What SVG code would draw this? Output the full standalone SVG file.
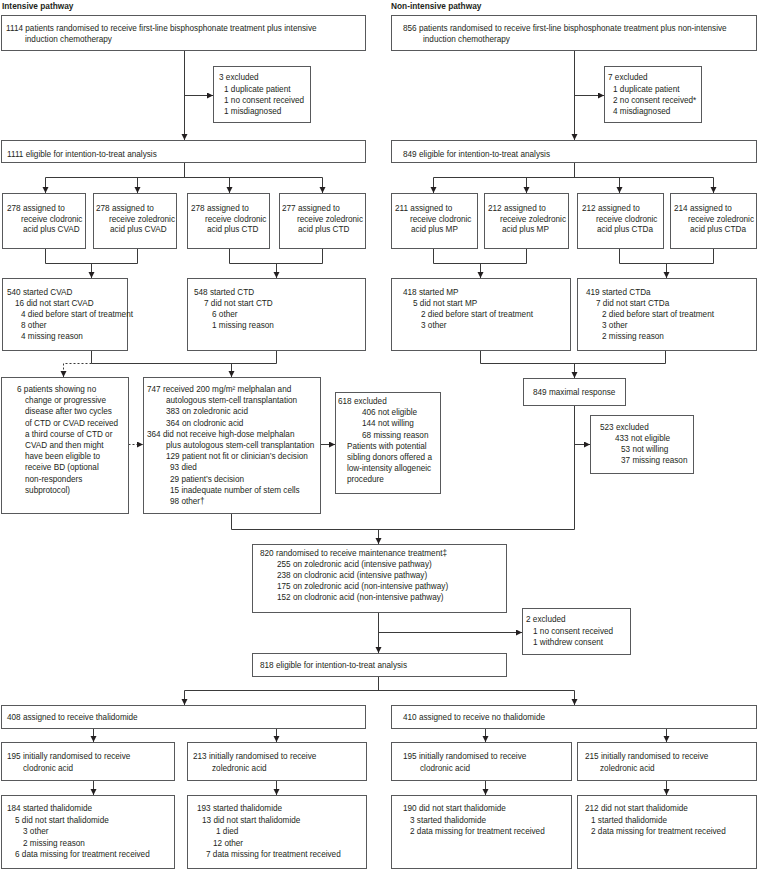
<svg xmlns="http://www.w3.org/2000/svg" width="758" height="870" viewBox="0 0 758 870">
<style>
text{font-family:"Liberation Sans",Arial,sans-serif;font-size:8.2px;fill:#231f20}
.h{font-weight:bold;font-size:8.3px}
rect{fill:#fff;stroke:#58595b;stroke-width:1}
.c path{fill:none;stroke:#3a3a3a;stroke-width:1}
.c .a{marker-end:url(#ah)}
.c .d{stroke-dasharray:2,2}
</style>
<defs>
<marker id="ah" markerUnits="userSpaceOnUse" markerWidth="7" markerHeight="7" refX="6" refY="3" orient="auto">
<path d="M0,0 L6,3 L0,6 z" fill="#231f20"/>
</marker>
</defs>
<rect x="0" y="0" width="758" height="870" style="stroke:none"/>
<g id="headings">
<text class="h" x="2" y="9">Intensive pathway</text>
<text class="h" x="391" y="9">Non-intensive pathway</text>
</g>
<g class="c" id="connectors">
<path class="a" d="M184.5,50.5 V140"/>
<path class="a" d="M184.5,95.5 H213"/>
<path class="a" d="M574.5,50.5 V140"/>
<path class="a" d="M574.5,95.5 H604"/>
<path d="M184.5,162.5 V177.5 M45.5,177.5 H322.5"/>
<path class="a" d="M45.5,177.5 V193"/>
<path class="a" d="M137.5,177.5 V193"/>
<path class="a" d="M229.5,177.5 V193"/>
<path class="a" d="M322.5,177.5 V193"/>
<path d="M574.5,162.5 V177.5 M433.5,177.5 H713.5"/>
<path class="a" d="M433.5,177.5 V193"/>
<path class="a" d="M526.5,177.5 V193"/>
<path class="a" d="M619.5,177.5 V193"/>
<path class="a" d="M713.5,177.5 V193"/>
<path d="M45.5,248.5 V263.5 H137.5 V248.5 M229.5,248.5 V263.5 H322.5 V248.5"/>
<path class="a" d="M91.5,263.5 V278"/>
<path class="a" d="M276.5,263.5 V278"/>
<path d="M433.5,248.5 V263.5 H526.5 V248.5 M619.5,248.5 V263.5 H713.5 V248.5"/>
<path class="a" d="M480.5,263.5 V278"/>
<path class="a" d="M666.5,263.5 V278"/>
<path d="M91.5,350.5 V363.5 H276.5 V350.5"/>
<path class="a" d="M231.5,363.5 V377"/>
<path class="a d" d="M91.5,363.5 H63.5 V377"/>
<path class="a d" d="M128.5,444.5 H143"/>
<path class="a" d="M320.5,444.5 H335"/>
<path d="M480.5,350.5 V363.5 H665.5 V350.5"/>
<path class="a" d="M574.5,363.5 V378"/>
<path d="M574.5,405.5 V529.5 H231.5 V513.5"/>
<path class="a" d="M574.5,444.5 H590"/>
<path class="a" d="M378.5,529.5 V544"/>
<path class="a" d="M378.5,612.5 V653"/>
<path class="a" d="M378.5,632.5 H522"/>
<path d="M378.5,676.5 V690.5 M184.5,690.5 H574.5"/>
<path class="a" d="M184.5,690.5 V705"/>
<path class="a" d="M574.5,690.5 V705"/>
<path class="a" d="M93.5,728.5 V742"/>
<path class="a" d="M276.5,728.5 V742"/>
<path class="a" d="M485.5,728.5 V742"/>
<path class="a" d="M666.5,728.5 V742"/>
<path class="a" d="M93.5,780.5 V795"/>
<path class="a" d="M276.5,780.5 V795"/>
<path class="a" d="M485.5,780.5 V795"/>
<path class="a" d="M666.5,780.5 V795"/>
</g>
<g id="n1114"><rect x="1.5" y="15.5" width="364" height="35"/>
<text x="6" y="31">1114 patients randomised to receive first-line bisphosphonate treatment plus intensive</text>
<text x="25" y="42">induction chemotherapy</text></g>
<g id="n3excl"><rect x="213.5" y="66.5" width="97" height="56"/>
<text x="219" y="80">3 excluded</text>
<text x="224" y="92">1 duplicate patient</text>
<text x="224" y="103">1 no consent received</text>
<text x="224" y="114">1 misdiagnosed</text></g>
<g id="n856"><rect x="391.5" y="15.5" width="365" height="35"/>
<text x="403" y="31">856 patients randomised to receive first-line bisphosphonate treatment plus non-intensive</text>
<text x="423" y="42">induction chemotherapy</text></g>
<g id="n7excl"><rect x="604.5" y="66.5" width="97" height="56"/>
<text x="608" y="80">7 excluded</text>
<text x="613" y="92">1 duplicate patient</text>
<text x="613" y="103">2 no consent received*</text>
<text x="613" y="114">4 misdiagnosed</text></g>
<g id="n1111"><rect x="1.5" y="140.5" width="364" height="22"/>
<text x="7" y="157">1111 eligible for intention-to-treat analysis</text></g>
<g id="n849"><rect x="391.5" y="140.5" width="365" height="22"/>
<text x="403" y="157">849 eligible for intention-to-treat analysis</text></g>
<g id="nL1"><rect x="2.5" y="193.5" width="83" height="55"/>
<text x="7" y="211">278 assigned to</text><text x="21" y="222">receive clodronic</text><text x="23" y="232">acid plus CVAD</text></g>
<g id="nL2"><rect x="93.5" y="193.5" width="83" height="55"/>
<text x="96" y="211">278 assigned to</text><text x="109" y="222">receive zoledronic</text><text x="110" y="232">acid plus CVAD</text></g>
<g id="nL3"><rect x="187.5" y="193.5" width="82" height="55"/>
<text x="191" y="211">278 assigned to</text><text x="205" y="222">receive clodronic</text><text x="207" y="232">acid plus CTD</text></g>
<g id="nL4"><rect x="279.5" y="193.5" width="86" height="55"/>
<text x="282" y="211">277 assigned to</text><text x="297" y="222">receive zoledronic</text><text x="298" y="232">acid plus CTD</text></g>
<g id="nR1"><rect x="391.5" y="193.5" width="86" height="55"/>
<text x="395" y="211">211 assigned to</text><text x="410" y="222">receive clodronic</text><text x="411" y="232">acid plus MP</text></g>
<g id="nR2"><rect x="484.5" y="193.5" width="84" height="55"/>
<text x="488" y="211">212 assigned to</text><text x="500" y="222">receive zoledronic</text><text x="502" y="232">acid plus MP</text></g>
<g id="nR3"><rect x="577.5" y="193.5" width="86" height="55"/>
<text x="582" y="211">212 assigned to</text><text x="596" y="222">receive clodronic</text><text x="597" y="232">acid plus CTDa</text></g>
<g id="nR4"><rect x="670.5" y="193.5" width="86" height="55"/>
<text x="674" y="211">214 assigned to</text><text x="688" y="222">receive zoledronic</text><text x="690" y="232">acid plus CTDa</text></g>
<g id="n540"><rect x="2.5" y="278.5" width="125" height="72"/>
<text x="7" y="295">540 started CVAD</text>
<text x="15" y="306">16 did not start CVAD</text>
<text x="21" y="317">4 died before start of treatment</text>
<text x="21" y="328">8 other</text>
<text x="21" y="339">4 missing reason</text></g>
<g id="n548"><rect x="187.5" y="278.5" width="178" height="72"/>
<text x="194" y="295">548 started CTD</text>
<text x="204" y="306">7 did not start CTD</text>
<text x="212" y="317">6 other</text>
<text x="212" y="328">1 missing reason</text></g>
<g id="n418"><rect x="391.5" y="278.5" width="179" height="72"/>
<text x="403" y="295">418 started MP</text>
<text x="413" y="306">5 did not start MP</text>
<text x="421" y="317">2 died before start of treatment</text>
<text x="421" y="328">3 other</text></g>
<g id="n419"><rect x="577.5" y="278.5" width="179" height="72"/>
<text x="586" y="295">419 started CTDa</text>
<text x="596" y="306">7 did not start CTDa</text>
<text x="602" y="317">2 died before start of treatment</text>
<text x="602" y="328">3 other</text>
<text x="602" y="339">2 missing reason</text></g>
<g id="n6pat"><rect x="1.5" y="377.5" width="127" height="136"/>
<text x="17" y="392">6 patients showing no</text>
<text x="25" y="403.2">change or progressive</text>
<text x="25" y="414.4">disease after two cycles</text>
<text x="25" y="425.6">of CTD or CVAD received</text>
<text x="25" y="436.8">a third course of CTD or</text>
<text x="25" y="448">CVAD and then might</text>
<text x="25" y="459.2">have been eligible to</text>
<text x="25" y="470.4">receive BD (optional</text>
<text x="25" y="481.6">non-responders</text>
<text x="25" y="492.8">subprotocol)</text></g>
<g id="n747"><rect x="143.5" y="377.5" width="177" height="136"/>
<text x="147" y="392">747 received 200 mg/m² melphalan and</text>
<text x="166" y="403.2">autologous stem-cell transplantation</text>
<text x="166" y="414.4">383 on zoledronic acid</text>
<text x="166" y="425.6">364 on clodronic acid</text>
<text x="147" y="436.8">364 did not receive high-dose melphalan</text>
<text x="166" y="448">plus autologous stem-cell transplantation</text>
<text x="166" y="459.2">129 patient not fit or clinician’s decision</text>
<text x="170" y="470.4">93 died</text>
<text x="170" y="481.6">29 patient’s decision</text>
<text x="170" y="492.8">15 inadequate number of stem cells</text>
<text x="170" y="504">98 other†</text></g>
<g id="n618"><rect x="335.5" y="392.5" width="105" height="101"/>
<text x="338" y="404">618 excluded</text>
<text x="362" y="415.2">406 not eligible</text>
<text x="362" y="426.4">144 not willing</text>
<text x="362" y="437.6">68 missing reason</text>
<text x="347" y="448.8">Patients with potential</text>
<text x="347" y="460">sibling donors offered a</text>
<text x="347" y="471.2">low-intensity allogeneic</text>
<text x="347" y="482.4">procedure</text></g>
<g id="n849max"><rect x="523.5" y="378.5" width="102" height="27"/>
<text x="533" y="395">849 maximal response</text></g>
<g id="n523"><rect x="590.5" y="415.5" width="103" height="58"/>
<text x="600" y="430">523 excluded</text>
<text x="615" y="441">433 not eligible</text>
<text x="621" y="452">53 not willing</text>
<text x="621" y="463">37 missing reason</text></g>
<g id="n820"><rect x="252.5" y="544.5" width="254" height="68"/>
<text x="260" y="556">820 randomised to receive maintenance treatment‡</text>
<text x="277" y="567">255 on zoledronic acid (intensive pathway)</text>
<text x="277" y="578">238 on clodronic acid (intensive pathway)</text>
<text x="277" y="589">175 on zoledronic acid (non-intensive pathway)</text>
<text x="277" y="600">152 on clodronic acid (non-intensive pathway)</text></g>
<g id="n2excl"><rect x="522.5" y="608.5" width="108" height="46"/>
<text x="526" y="622">2 excluded</text>
<text x="533" y="633.5">1 no consent received</text>
<text x="533" y="645">1 withdrew consent</text></g>
<g id="n818"><rect x="252.5" y="653.5" width="254" height="23"/>
<text x="260" y="668">818 eligible for intention-to-treat analysis</text></g>
<g id="n408"><rect x="1.5" y="705.5" width="364" height="23"/>
<text x="7" y="720">408 assigned to receive thalidomide</text></g>
<g id="n410"><rect x="391.5" y="705.5" width="365" height="23"/>
<text x="403" y="720">410 assigned to receive no thalidomide</text></g>
<g id="n195a"><rect x="1.5" y="742.5" width="173" height="38"/>
<text x="7" y="759">195 initially randomised to receive</text><text x="23" y="771">clodronic acid</text></g>
<g id="n213"><rect x="187.5" y="742.5" width="179" height="38"/>
<text x="193" y="759">213 initially randomised to receive</text><text x="212" y="771">zoledronic acid</text></g>
<g id="n195b"><rect x="391.5" y="742.5" width="180" height="38"/>
<text x="403" y="759">195 initially randomised to receive</text><text x="420" y="771">clodronic acid</text></g>
<g id="n215"><rect x="577.5" y="742.5" width="179" height="38"/>
<text x="585" y="759">215 initially randomised to receive</text><text x="600" y="771">zoledronic acid</text></g>
<g id="n184"><rect x="1.5" y="795.5" width="173" height="73"/>
<text x="7" y="811">184 started thalidomide</text>
<text x="15" y="822.5">5 did not start thalidomide</text>
<text x="23" y="834">3 other</text>
<text x="23" y="845.5">2 missing reason</text>
<text x="15" y="857">6 data missing for treatment received</text></g>
<g id="n193"><rect x="187.5" y="795.5" width="179" height="73"/>
<text x="197" y="811">193 started thalidomide</text>
<text x="202" y="822.5">13 did not start thalidomide</text>
<text x="216" y="834">1 died</text>
<text x="213" y="845.5">12 other</text>
<text x="206" y="857">7 data missing for treatment received</text></g>
<g id="n190"><rect x="391.5" y="795.5" width="180" height="73"/>
<text x="403" y="811">190 did not start thalidomide</text>
<text x="410" y="822.5">3 started thalidomide</text>
<text x="410" y="834">2 data missing for treatment received</text></g>
<g id="n212"><rect x="577.5" y="795.5" width="179" height="73"/>
<text x="585" y="811">212 did not start thalidomide</text>
<text x="591" y="822.5">1 started thalidomide</text>
<text x="591" y="834">2 data missing for treatment received</text></g>
</svg>
